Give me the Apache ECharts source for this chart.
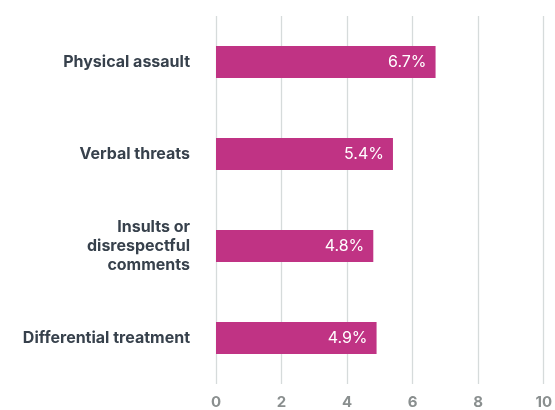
<!DOCTYPE html>
<html>
<head>
<meta charset="utf-8">
<script src="https://cdn.jsdelivr.net/npm/echarts@6/dist/echarts.min.js"></script>
<style>
  html, body { margin: 0; padding: 0; background: #fff; }
  #chart { width: 555px; height: 410px; }
</style>
</head>
<body>
<div id="chart"></div>
<script>
// Share of respondents reporting each type of incident (%)
const categories = [
  'Physical assault',
  'Verbal threats',
  'Insults or\ndisrespectful\ncomments',
  'Differential treatment'
];
const values = [6.7, 5.4, 4.8, 4.9];
const axisTicks = [0, 2, 4, 6, 8, 10];

const chart = echarts.init(document.getElementById('chart'));
chart.setOption({
  animation: false,
  textStyle: { fontFamily: 'Inter, "Noto Sans", sans-serif' },
  grid: { left: 216, right: 10, top: 16, bottom: 26, containLabel: false },
  xAxis: {
    type: 'value',
    min: axisTicks[0],
    max: axisTicks[axisTicks.length - 1],
    interval: 2,
    axisLine: { show: false },
    axisTick: { show: false },
    splitLine: { show: true, lineStyle: { color: '#d6dbdb', width: 1.3 } },
    axisLabel: {
      color: '#8a8f8f', fontSize: 15, fontWeight: 'bold', margin: 11
    }
  },
  yAxis: {
    type: 'category',
    data: categories,
    inverse: true,
    axisLine: { show: false },
    axisTick: { show: false },
    axisLabel: {
      color: '#37414c', fontSize: 16, fontWeight: 'bold',
      margin: 26, lineHeight: 19, align: 'right'
    }
  },
  series: [{
    type: 'bar',
    data: values,
    barWidth: 32,
    itemStyle: { color: '#c03384' },
    label: {
      show: true,
      position: 'insideRight',
      distance: 9,
      color: '#ffffff',
      fontSize: 16,
      formatter: p => p.value.toFixed(1) + '%'
    }
  }]
});
</script>
</body>
</html>
